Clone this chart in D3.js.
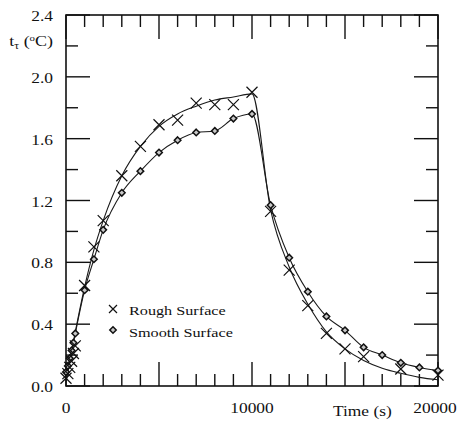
<!DOCTYPE html>
<html>
<head>
<meta charset="utf-8">
<script src="https://cdn.jsdelivr.net/npm/d3@7"></script>
<style>
  body { margin: 0; background: #fff; }
  svg { display: block; }
</style>
</head>
<body>
<svg id="chart" width="462" height="423" font-family="'Liberation Serif', 'DejaVu Serif', serif"></svg>
<script>
// measured points, rough surface (x markers)
const roughTime = [0, 100, 200, 300, 400, 500, 1000, 1500, 2000, 3000, 4000, 5000, 6000, 7000, 8000, 9000, 10000,
  11000, 12000, 13000, 14000, 15000, 16000, 18000, 20000];
const roughTemp = [0.05, 0.08, 0.12, 0.16, 0.21, 0.26, 0.65, 0.90, 1.07, 1.36, 1.55, 1.69, 1.72, 1.83, 1.82, 1.82, 1.90,
  1.13, 0.75, 0.52, 0.34, 0.24, 0.19, 0.11, 0.07];

// measured points, smooth surface (diamonds)
const smoothTime = [0, 100, 200, 300, 400, 500, 1000, 1500, 2000, 3000, 4000, 5000, 6000, 7000, 8000, 9000, 10000,
  11000, 12000, 13000, 14000, 15000, 16000, 17000, 18000, 19000, 20000];
const smoothTemp = [0.09, 0.13, 0.18, 0.23, 0.28, 0.34, 0.62, 0.82, 1.01, 1.25, 1.39, 1.51, 1.59, 1.64, 1.65, 1.73, 1.76,
  1.17, 0.83, 0.61, 0.45, 0.36, 0.25, 0.20, 0.15, 0.12, 0.10];

// fitted curve drawn through the rough surface points
const roughFitTime = [0, 500, 1000, 1500, 2000, 3000, 4000, 5000, 6000, 7000, 8000, 9000, 10000,
  11000, 12000, 13000, 14000, 15000, 16000, 17000, 18000, 19000, 20000];
const roughFitTemp = [0.02, 0.35, 0.64, 0.88, 1.07, 1.36, 1.55, 1.68, 1.76, 1.81, 1.85, 1.87, 1.89,
  1.14, 0.77, 0.53, 0.35, 0.24, 0.165, 0.115, 0.082, 0.056, 0.04];

const yTicks = [0, 0.4, 0.8, 1.2, 1.6, 2.0, 2.4];
const xTicks = [0, 10000, 20000];
const legendLabels = ["Rough Surface", "Smooth Surface"];

const svg = d3.select("#chart");
const margin = {left: 66, right: 24, top: 15, bottom: 37};
const W = 462, H = 423;

const x = d3.scaleLinear().domain([0, 20000]).range([margin.left, W - margin.right]);
const y = d3.scaleLinear().domain([0, 2.4]).range([H - margin.bottom, margin.top]);

const stretch = "scale(1.2,1)";

// ticks, inward, on all four sides
let minorX = d3.range(0, 20001, 1000);
let minorY = d3.range(0, 2.41, 0.2);
const majorLen = 24, minorLen = 12;
let tk = svg.append("g").attr("stroke", "#111").attr("stroke-width", 1.4);

minorX.forEach(v => {
  let len = (v % 5000 === 0) ? majorLen : minorLen;
  tk.append("line").attr("x1", x(v)).attr("x2", x(v)).attr("y1", y(0)).attr("y2", y(0) - len);
  tk.append("line").attr("x1", x(v)).attr("x2", x(v)).attr("y1", y(2.4)).attr("y2", y(2.4) + len);
});
minorY.forEach((v, i) => {
  let len = (i % 2 === 0) ? majorLen : minorLen;
  tk.append("line").attr("x1", x(0)).attr("x2", x(0) + len).attr("y1", y(v)).attr("y2", y(v));
  tk.append("line").attr("x1", x(20000)).attr("x2", x(20000) - len).attr("y1", y(v)).attr("y2", y(v));
});

// frame
svg.append("rect")
  .attr("x", x(0)).attr("y", y(2.4))
  .attr("width", x(20000) - x(0)).attr("height", y(0) - y(2.4))
  .attr("fill", "none").attr("stroke", "#111").attr("stroke-width", 1.6);

// tick labels
svg.append("g").selectAll("text")
  .data(yTicks)
  .join("text")
  .attr("transform", d => `translate(53,${y(d) + 6}) ${stretch}`)
  .attr("text-anchor", "end")
  .attr("fill", "#111")
  .attr("font-size", 14.5)
  .text(d => d3.format(".1f")(d));

svg.append("g").selectAll("text")
  .data(xTicks)
  .join("text")
  .attr("transform", d => `translate(${d === 20000 ? x(d) - 3 : x(d)},413) ${stretch}`)
  .attr("text-anchor", "middle")
  .attr("fill", "#111")
  .attr("font-size", 14.5)
  .text(d => d);

svg.append("text")
  .attr("transform", `translate(333,416) ${stretch}`)
  .attr("fill", "#111")
  .attr("font-size", 14.5)
  .text("Time (s)");

let yl = svg.append("text")
  .attr("transform", `translate(53,46) ${stretch}`)
  .attr("text-anchor", "end")
  .attr("fill", "#111")
  .attr("font-size", 15);
yl.append("tspan").text("t");
yl.append("tspan").attr("dy", 3).attr("font-size", 10).text("τ");
yl.append("tspan").attr("dy", -3).text(" (");
yl.append("tspan").attr("dy", -5).attr("font-size", 9).text("o");
yl.append("tspan").attr("dy", 5).text("C)");

// curves
const pts = (ts, vs) => ts.map((t, i) => [t, vs[i]]);
const roughPts = pts(roughTime, roughTemp);
const smoothPts = pts(smoothTime, smoothTemp);

const line = d3.line().x(d => x(d[0])).y(d => y(d[1])).curve(d3.curveMonotoneX);

svg.append("path")
  .datum(pts(roughFitTime, roughFitTemp))
  .attr("d", line)
  .attr("fill", "none").attr("stroke", "#1a1a1a").attr("stroke-width", 1.1);

svg.append("path")
  .datum(smoothPts)
  .attr("d", line)
  .attr("fill", "none").attr("stroke", "#1a1a1a").attr("stroke-width", 1.1);

// markers
const cross = (g, cx, cy, r) => {
  g.append("path")
    .attr("d", `M${cx - r},${cy - r}L${cx + r},${cy + r}M${cx - r},${cy + r}L${cx + r},${cy - r}`)
    .attr("stroke", "#111").attr("stroke-width", 1.2).attr("fill", "none");
};
const diamond = (g, cx, cy, r) => {
  g.append("path")
    .attr("d", `M${cx},${cy - r}L${cx + r},${cy}L${cx},${cy + r}L${cx - r},${cy}Z`)
    .attr("stroke", "#111").attr("stroke-width", 1.5).attr("fill", "#c8c8c8");
};

let mk = svg.append("g");
smoothPts.forEach(d => diamond(mk, x(d[0]), y(d[1]), 3.3));
roughPts.forEach(d => cross(mk, x(d[0]), y(d[1]), 5.5));

// legend
let lg = svg.append("g");
cross(lg, 113, 309, 4);
diamond(lg, 113, 330, 3.2);
lg.selectAll("text")
  .data(legendLabels)
  .join("text")
  .attr("transform", (d, i) => `translate(129,${315 + i * 22}) ${stretch}`)
  .attr("fill", "#111")
  .attr("font-size", 13.5)
  .text(d => d);
</script>
</body>
</html>
